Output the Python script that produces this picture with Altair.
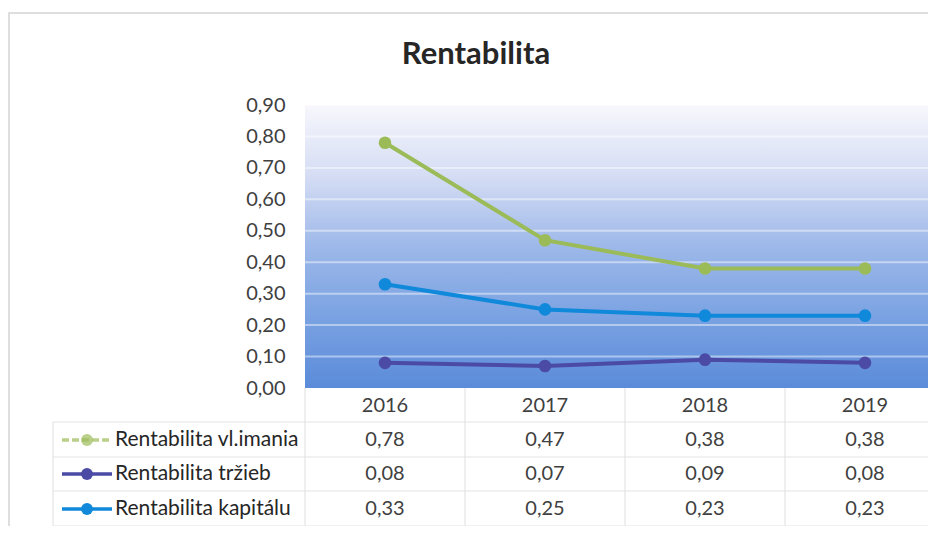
import altair as alt
import pandas as pd

# ---- data ----
years = ["2016", "2017", "2018", "2019"]
series = ["Rentabilita vl.imania", "Rentabilita tržieb", "Rentabilita kapitálu"]
vl_imania = [0.78, 0.47, 0.38, 0.38]
trzieb = [0.08, 0.07, 0.09, 0.08]
kapitalu = [0.33, 0.25, 0.23, 0.23]
y_ticks = [0.0, 0.1, 0.2, 0.3, 0.4, 0.5, 0.6, 0.7, 0.8, 0.9]
colors = ["#9BBB59", "#4B4BA6", "#1089DA"]
title_text = "Rentabilita"

values_by_series = [vl_imania, trzieb, kapitalu]
rows = []
for s, vals in zip(series, values_by_series):
    for yr, v in zip(years, vals):
        rows.append({"year": yr, "series": s, "value": v})
df = pd.DataFrame(rows)
df_years = pd.DataFrame({"year": years})
df_ticks = pd.DataFrame({"tick": y_ticks[1:]})
df_series = pd.DataFrame({"series": series})
one = pd.DataFrame({"k": [0]})
df_title = pd.DataFrame({"t": [title_text]})

W, H = 623, 283
FONT = "Lato"
TXT = "#404040"
FS = 20
row_off = [52, 86, 121]


def xscale():
    return alt.Scale(type="band", domain=years, range=[0, 640], paddingInner=0, paddingOuter=0)


xenc = alt.X("year:O", scale=xscale(),
             axis=alt.Axis(title=None, labelAngle=0, ticks=False, tickSize=0, domain=False,
                           labelPadding=17, labelBaseline="middle", labelFontSize=FS,
                           labelFont=FONT, labelColor=TXT, grid=False, zindex=2))
yscale = alt.Scale(domain=[0, 0.9], nice=False, zero=True)
yaxis = alt.Axis(title=None, values=y_ticks, grid=False, ticks=False, domain=False,
                 labelPadding=20, labelFontSize=FS, labelFont=FONT, labelColor=TXT,
                 zindex=2, labelExpr="replace(format(datum.value, '.2f'), '.', ',')")
color = alt.Color("series:N", scale=alt.Scale(domain=series, range=colors), legend=None)

# chart frame
frame = alt.Chart(one).mark_rect(fill="white", stroke="#d4d4d4", strokeWidth=1.5).encode(
    x=alt.value(-296), x2=alt.value(W + 20), y=alt.value(-92), y2=alt.value(H + 160))

title = alt.Chart(df_title).mark_text(font=FONT, fontSize=31, fontWeight="bold", color="#262626",
                                      align="center", baseline="middle").encode(
    x=alt.value(171), y=alt.value(-50), text="t:N")

# gradient plot background
bg = alt.Chart(one).mark_rect(
    color=alt.Gradient(gradient="linear", x1=0, x2=0, y1=0, y2=1,
                       stops=[alt.GradientStop(offset=0, color="#F7F7FC"),
                              alt.GradientStop(offset=0.25, color="#D5DDF4"),
                              alt.GradientStop(offset=0.5, color="#9DB8E9"),
                              alt.GradientStop(offset=0.75, color="#7AA2E2"),
                              alt.GradientStop(offset=1, color="#5B8BD9")])
).encode(x=alt.value(0), x2=alt.value(W), y=alt.value(0), y2=alt.value(H))

grid = alt.Chart(df_ticks).mark_rule(color="white", opacity=0.45, strokeWidth=2).encode(
    y=alt.Y("tick:Q", scale=yscale, axis=yaxis), x=alt.value(0), x2=alt.value(W))

lines = alt.Chart(df).mark_line(strokeWidth=4).encode(
    x=xenc,
    y=alt.Y("value:Q", scale=yscale, axis=yaxis),
    color=color, detail="series:N")

points = alt.Chart(df).mark_point(filled=True, size=160, opacity=1, shape="circle").encode(
    x=alt.X("year:O", scale=xscale()),
    y=alt.Y("value:Q", scale=yscale, axis=yaxis), color=color)

# table grid
hlines = alt.layer(*[
    alt.Chart(one).mark_rule(color="#e4e4e4", strokeWidth=1.2).encode(
        x=alt.value(-252), x2=alt.value(W), y=alt.value(H + off))
    for off in [34, 69, 103, 138]
])
vlines = alt.Chart(df_years).mark_rule(color="#e4e4e4", strokeWidth=1.2).encode(
    x=alt.X("year:O", bandPosition=0, scale=xscale()),
    y=alt.value(H), y2=alt.value(H + 138))
vleft = alt.Chart(one).mark_rule(color="#e4e4e4", strokeWidth=1.2).encode(
    x=alt.value(-252), y=alt.value(H + 34), y2=alt.value(H + 138))

table_layers = []
for i, s in enumerate(series):
    off = row_off[i]
    base = alt.Chart(df).transform_filter(alt.datum.series == s)
    table_layers.append(
        base.transform_calculate(label="replace(format(datum.value, '.2f'), '.', ',')")
        .mark_text(font=FONT, fontSize=FS, color=TXT, baseline="middle", align="center")
        .encode(x=alt.X("year:O", scale=xscale()), y=alt.value(H + off), text="label:N"))
    sym = alt.Chart(df_series).transform_filter(alt.datum.series == s)
    dash = [7, 3] if i == 0 else [1, 0]
    op = 0.7 if i == 0 else 1
    table_layers.append(
        sym.mark_rule(strokeWidth=3.5, strokeDash=dash, opacity=op).encode(
            x=alt.value(-243), x2=alt.value(-193), y=alt.value(H + off), color=color))
    table_layers.append(
        sym.mark_point(filled=True, size=140, opacity=op, shape="circle").encode(
            x=alt.value(-218), y=alt.value(H + off), color=color))
    table_layers.append(
        sym.mark_text(font=FONT, fontSize=FS + 1, color="#262626", align="left", baseline="middle").encode(
            x=alt.value(-190), y=alt.value(H + off), text="series:N"))

chart = alt.layer(frame, title, bg, grid, lines, points, hlines, vlines, vleft, *table_layers).properties(
    width=W, height=H,
    padding={"left": 297, "top": 97, "right": 0, "bottom": 138},
    autosize=alt.AutoSizeParams(type="none"),
).configure_view(stroke=None)

chart.save("out.html", embed_options={"renderer": "svg", "actions": False})
